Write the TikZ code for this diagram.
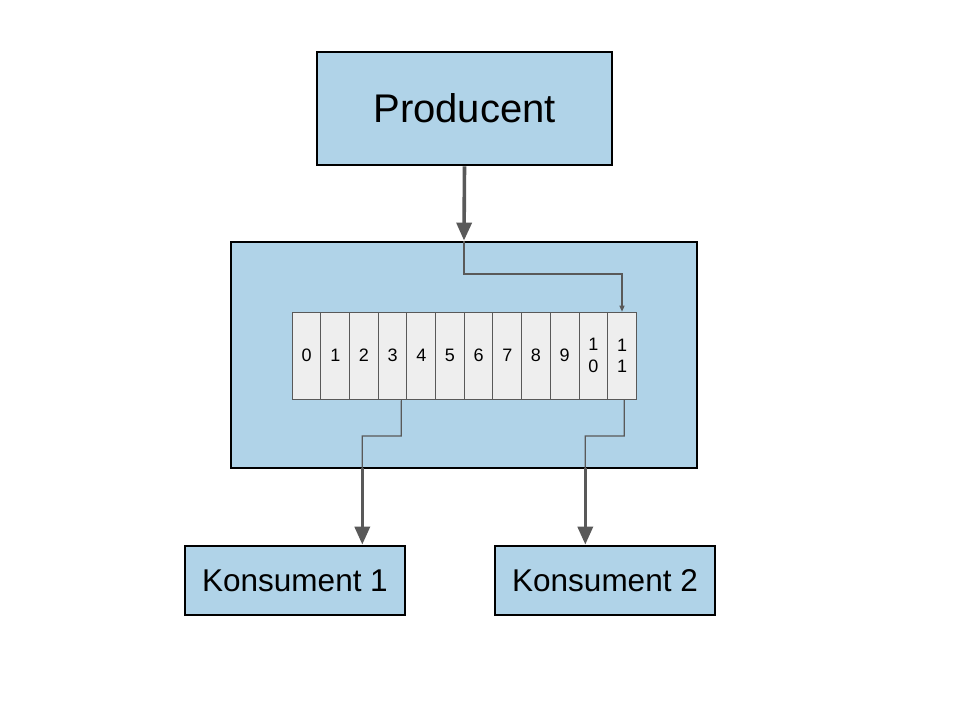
\documentclass[tikz,border=0pt]{standalone}
\usepackage{fontspec}
\setmainfont{Liberation Sans}
\usetikzlibrary{arrows.meta,calc}
\definecolor{boxfill}{HTML}{B0D3E8}
\definecolor{cellfill}{HTML}{EEEEEE}
\definecolor{linegray}{HTML}{595959}
\tikzset{
  bluebox/.style={draw=black,line width=2.8pt,fill=boxfill,inner sep=0pt},
  cellbox/.style={draw=linegray,line width=1pt,fill=cellfill,inner sep=0pt,
    minimum width=28.67pt,minimum height=87pt,font=\fontsize{18}{21.7}\selectfont,align=center},
  thickarrow/.style={draw=linegray,line width=3.6pt,-{Triangle[length=18pt,width=15pt]}},
  thinline/.style={draw=linegray,line width=1.2pt},
  thinarrow/.style={thinline,-{Triangle[length=6pt,width=5pt]}}
}
\begin{document}
\begin{tikzpicture}[x=1pt,y=-1pt]
\useasboundingbox[fill=white] (0,0) rectangle (960,720);
\node[bluebox,minimum width=295pt,minimum height=113pt,font=\fontsize{40}{40}\selectfont] (prod) at (464.5,108.5) {Producent};
\node[bluebox,minimum width=466pt,minimum height=226pt] (cont) at (464,355) {};
\node[bluebox,minimum width=220pt,minimum height=69pt,font=\fontsize{31.5}{31.5}\selectfont] (k1) at (295,580.5) {Konsument 1};
\node[bluebox,minimum width=220pt,minimum height=69pt,font=\fontsize{31.5}{31.5}\selectfont] (k2) at (605,580.5) {Konsument 2};
\foreach \i/\t in {0/0,1/1,2/2,3/3,4/4,5/5,6/6,7/7,8/8,9/9,10/{1\\0},11/{1\\1}}{
  \node[cellbox] (c\i) at ({292.3+28.67*(\i+0.5)},355.7) {\t};
}
% producer to container
\draw[thickarrow] (prod.south) -- (cont.north);
\coordinate (j1) at (464,274);
\draw[thinarrow] (cont.north) -- (j1) -| (c11.north);
% consumers
\coordinate (s1) at ($(c3.south)+(8.7,0)$);
\coordinate (m1) at (401.3,436);
\coordinate (e1) at (362.3,436);
\coordinate (b1) at (362.3,468);
\draw[thinline] (s1) -- (m1) -- (e1) -- (b1);
\draw[thickarrow] (b1) -- (k1.north -| b1);
\coordinate (s2) at ($(c11.south)+(2.3,0)$);
\coordinate (m2) at (624.3,436);
\coordinate (e2) at (585.3,436);
\coordinate (b2) at (585.3,468);
\draw[thinline] (s2) -- (m2) -- (e2) -- (b2);
\draw[thickarrow] (b2) -- (k2.north -| b2);
\end{tikzpicture}
\end{document}
